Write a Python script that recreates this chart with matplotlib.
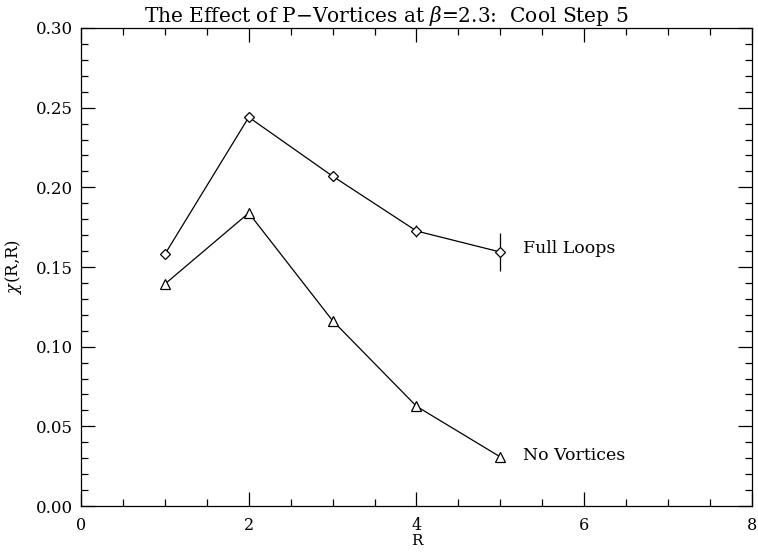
import matplotlib.pyplot as plt
from matplotlib.ticker import MultipleLocator

# data
r = [1, 2, 3, 4, 5]
full_loops = [0.158, 0.244, 0.207, 0.1726, 0.1594]
full_err = [0.001, 0.001, 0.002, 0.004, 0.012]
no_vortices = [0.1393, 0.1839, 0.1163, 0.0626, 0.0308]
no_vort_err = [0.001, 0.001, 0.001, 0.001, 0.001]

plt.rcParams['font.family'] = ['DejaVu Serif']
plt.rcParams['mathtext.fontset'] = 'dejavuserif'

fig = plt.figure(figsize=(7.58, 5.54), dpi=100)
ax = fig.add_axes([0.1069, 0.0866, 0.8851, 0.8629])

ax.errorbar(r, full_loops, yerr=full_err, color='black', lw=0.9,
            marker='D', ms=5, mfc='white', mec='black', mew=0.9,
            elinewidth=0.9, capsize=0)
ax.errorbar(r, no_vortices, yerr=no_vort_err, color='black', lw=0.9,
            marker='^', ms=6.5, mfc='white', mec='black', mew=0.9,
            elinewidth=0.9, capsize=0)

ax.text(5.27, full_loops[-1] + 0.002, 'Full Loops', fontsize=12.5, va='center')
ax.text(5.27, no_vortices[-1] + 0.001, 'No Vortices', fontsize=12.5, va='center')

ax.set_xlim(0, 8)
ax.set_ylim(0, 0.30)
ax.xaxis.set_major_locator(MultipleLocator(2))
ax.xaxis.set_minor_locator(MultipleLocator(0.5))
ax.yaxis.set_major_locator(MultipleLocator(0.05))
ax.yaxis.set_minor_locator(MultipleLocator(0.01))
ax.yaxis.set_major_formatter(plt.FormatStrFormatter('%.2f'))
ax.tick_params(which='both', direction='in', top=True, right=True, labelsize=12)
ax.tick_params(which='major', length=10, width=0.9)
ax.tick_params(which='minor', length=5, width=0.9)
ax.tick_params(axis='x', pad=8, labelsize=11.5)
ax.tick_params(axis='y', pad=6)
for s in ax.spines.values():
    s.set_linewidth(0.9)

ax.set_xlabel('R', fontsize=11, labelpad=0)
ax.set_ylabel(r'$\chi$(R,R)', fontsize=12, labelpad=8)
ax.set_title(r'The Effect of P$-$Vortices at $\beta$=2.3:  Cool Step 5',
             fontsize=14.5, pad=3, x=0.455)

fig.savefig('out.png', dpi=100)
